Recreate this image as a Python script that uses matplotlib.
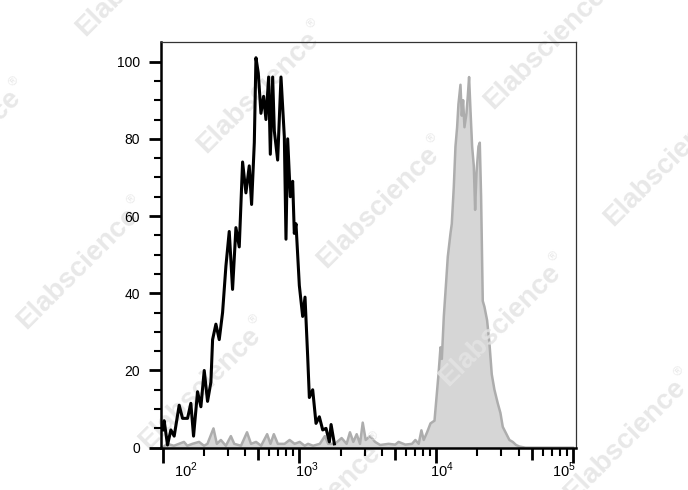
import matplotlib
matplotlib.use("Agg")
import matplotlib.pyplot as plt
import matplotlib.transforms as mtransforms
import numpy as np

plt.rcParams['font.family'] = ['Liberation Sans', 'DejaVu Sans']
plt.rcParams['mathtext.fontset'] = 'custom'
plt.rcParams['mathtext.rm'] = 'Liberation Sans'

# black histogram (unstained / isotype)
black_x = [100, 102.8, 108.8, 115.1, 121.7, 132.4, 140.1, 152.4, 161.1, 168.6,
           180.3, 190.8, 201.8, 213.4, 225.8, 232.3, 245.6, 259.8, 274.8, 290.6,
           307.4, 325.1, 344.0, 363.8, 384.8, 407, 430.5, 447.8, 468.7, 481.9,
           501.2, 524.2, 548.3, 570.2, 596.5, 613.6, 638.3, 656.6, 694.3, 734.5,
           776.8, 798.8, 821.6, 859.3, 893.8, 918.9, 945.3, 1000, 1057.8, 1100.3,
           1150.8, 1183.6, 1252, 1324, 1400, 1482, 1567, 1658, 1706, 1803]
black_y = [4.6, 7, 0.7, 4.6, 3, 11, 7.6, 7.6, 11.5, 3,
           14.5, 10.6, 20, 12, 17, 28, 32, 28, 35, 47,
           56, 41, 57, 52, 74, 66, 73, 63, 79, 101,
           97, 86.6, 91, 85, 96, 76, 96, 82, 74.5, 96,
           80.5, 54, 80, 65, 69, 55.5, 58, 42, 34, 39,
           23.6, 13, 15, 6.3, 8, 4.6, 5, 1.5, 6, 1]

# grey filled histogram (stained)
grey_x = [100, 108.2, 121.1, 143.5, 151.8, 165.2, 184.9, 201.2, 213, 235.8,
          249.5, 267, 290.4, 316, 334.6, 374.6, 414.7, 443.6, 482.8, 525.6,
          581.8, 615.3, 651.1, 696.6, 779.8, 849, 924.1, 1006, 1094, 1158,
          1260, 1411, 1536, 1625, 1820, 2037, 2216, 2344, 2481, 2625,
          2777, 2906, 3055, 3288, 3579, 3897, 4487, 5023, 5314, 5950,
          6661, 7047, 7456, 7800, 8110, 8586, 9090, 9724, 10000, 10400,
          10755, 10999, 11374, 11830, 12162, 12724, 13008, 13455, 13836, 14226,
          14549, 15053, 15388, 15740, 16100, 16650, 17023, 17400, 17810, 18317,
          18835, 19262, 19700, 20371, 20836, 21300, 21905, 22530, 23560, 24510,
          25490, 26660, 28190, 29490, 30670, 32430, 34300, 36270, 38370, 40560,
          45000, 100000]
grey_y = [0, 1, 0.5, 1.5, 0.5, 1, 1.5, 0.5, 1, 5,
          1, 2, 0.5, 3, 1, 0.5, 4, 1, 1.5, 0.5,
          3.5, 1, 3.5, 1, 1, 2, 1, 1.5, 0.5, 1,
          0.5, 1, 3, 1, 1, 2.5, 1, 4, 1.5, 3.5,
          1, 6.5, 2, 3, 1.5, 0.7, 1, 0.8, 1.5, 0.8,
          1, 2, 1, 4.5, 2, 4, 6.3, 7, 12, 19,
          26, 23, 34, 43, 49.5, 55.5, 58, 67.6, 78, 83,
          89, 94, 86, 90, 83, 86.6, 91, 96, 87.5, 78,
          73, 61.6, 71, 78, 79, 65, 38, 36.5, 33, 27,
          19, 15, 11.5, 9, 5.4, 3.7, 2, 1.5, 0.7, 0.3,
          0, 0]

x_ticks = [1e2, 1e3, 1e4, 1e5]
x_tick_labels = ['$10^{2}$', '$10^{3}$', '$10^{4}$', '$10^{5}$']
y_ticks = [0, 20, 40, 60, 80, 100]

# watermark word centres in pixels from top-left
wm_pos = [(137, -25), (258, 92), (545, 48), (-40, 150), (378, 207), (665, 165),
          (78, 268), (500, 325), (200, 388), (625, 440), (320, 505)]

W, H = 688, 490
fig = plt.figure(figsize=(W / 100, H / 100), dpi=100)
ax = fig.add_axes([161 / W, 1 - 447.7 / H, (575.5 - 161) / W, (447.7 - 42.3) / H])
ax.set_axisbelow(False)

ax.fill_between(grey_x, grey_y, 0, color='#d6d6d6', lw=0, zorder=1)
ax.plot(grey_x, grey_y, color='#adadad', lw=1.8, zorder=2)
ax.plot(black_x, black_y, color='black', lw=2.2, zorder=4)

ax.set_xscale('log')
ax.set_xlim(97.5, 104300)
ax.set_ylim(0, 105)

# major ticks at decades and halves, labels only at decades
maj = [1e2, 5e2, 1e3, 5e3, 1e4, 5e4, 1e5]
ax.set_xticks(maj)
ax.set_xticklabels([x_tick_labels[x_ticks.index(v)] if v in x_ticks else '' for v in maj],
                   fontsize=10.5)
minors = [m * 10 ** d for d in (2, 3, 4) for m in (2, 3, 4, 6, 7, 8, 9)]
ax.set_xticks(minors, minor=True)
ax.xaxis.set_minor_formatter(plt.NullFormatter())
ax.tick_params(axis='x', which='major', direction='out', length=11, width=2, pad=-2)
ax.tick_params(axis='x', which='minor', direction='out', length=6, width=1.5)
for t, v in zip(ax.xaxis.get_major_ticks(), maj):
    if v not in x_ticks:
        t.tick1line.set_markersize(8.5)

offsets = [23, 8, 6, -9]
for lab, v in zip(ax.get_xticklabels(), maj):
    if v in x_ticks:
        dx = offsets[x_ticks.index(v)] / 100
        lab.set_transform(lab.get_transform() +
                          mtransforms.ScaledTranslation(dx, 0, fig.dpi_scale_trans))

ax.set_yticks(y_ticks)
ax.set_yticklabels([str(v) for v in y_ticks], fontsize=10)
ax.set_yticks(np.arange(0, 105, 5), minor=True)
ax.tick_params(axis='y', which='major', direction='out', length=9, width=2, pad=6)
ax.tick_params(axis='y', which='minor', direction='out', length=5, width=1.5)

for s in ('left', 'bottom'):
    ax.spines[s].set_linewidth(1.8)
for s in ('top', 'right'):
    ax.spines[s].set_linewidth(0.9)
    ax.spines[s].set_color('#333333')

# watermark, above the grey fill but under axis, ticks and the black line
ang = 45
d = np.array([np.cos(np.radians(ang)), np.sin(np.radians(ang))])
for cx, cy in wm_pos:
    fx, fy = cx / W, 1 - cy / H
    ax.text(fx, fy, 'Elabscience', transform=fig.transFigure, clip_on=False,
            rotation=ang, ha='center', va='center', rotation_mode='anchor',
            fontsize=20, fontweight='bold', color='#e4e4e4', alpha=0.85, zorder=2.2)
    rx = cx + 86 * d[0] + 10 * (-d[1])
    ry = cy - 86 * d[1] - 10 * d[0]
    ax.text(rx / W, 1 - ry / H, '®', transform=fig.transFigure, clip_on=False,
            rotation=ang, ha='center', va='center', rotation_mode='anchor',
            fontsize=9, color='#e4e4e4', alpha=0.85, zorder=2.2)

fig.savefig('out.png', dpi=100)
